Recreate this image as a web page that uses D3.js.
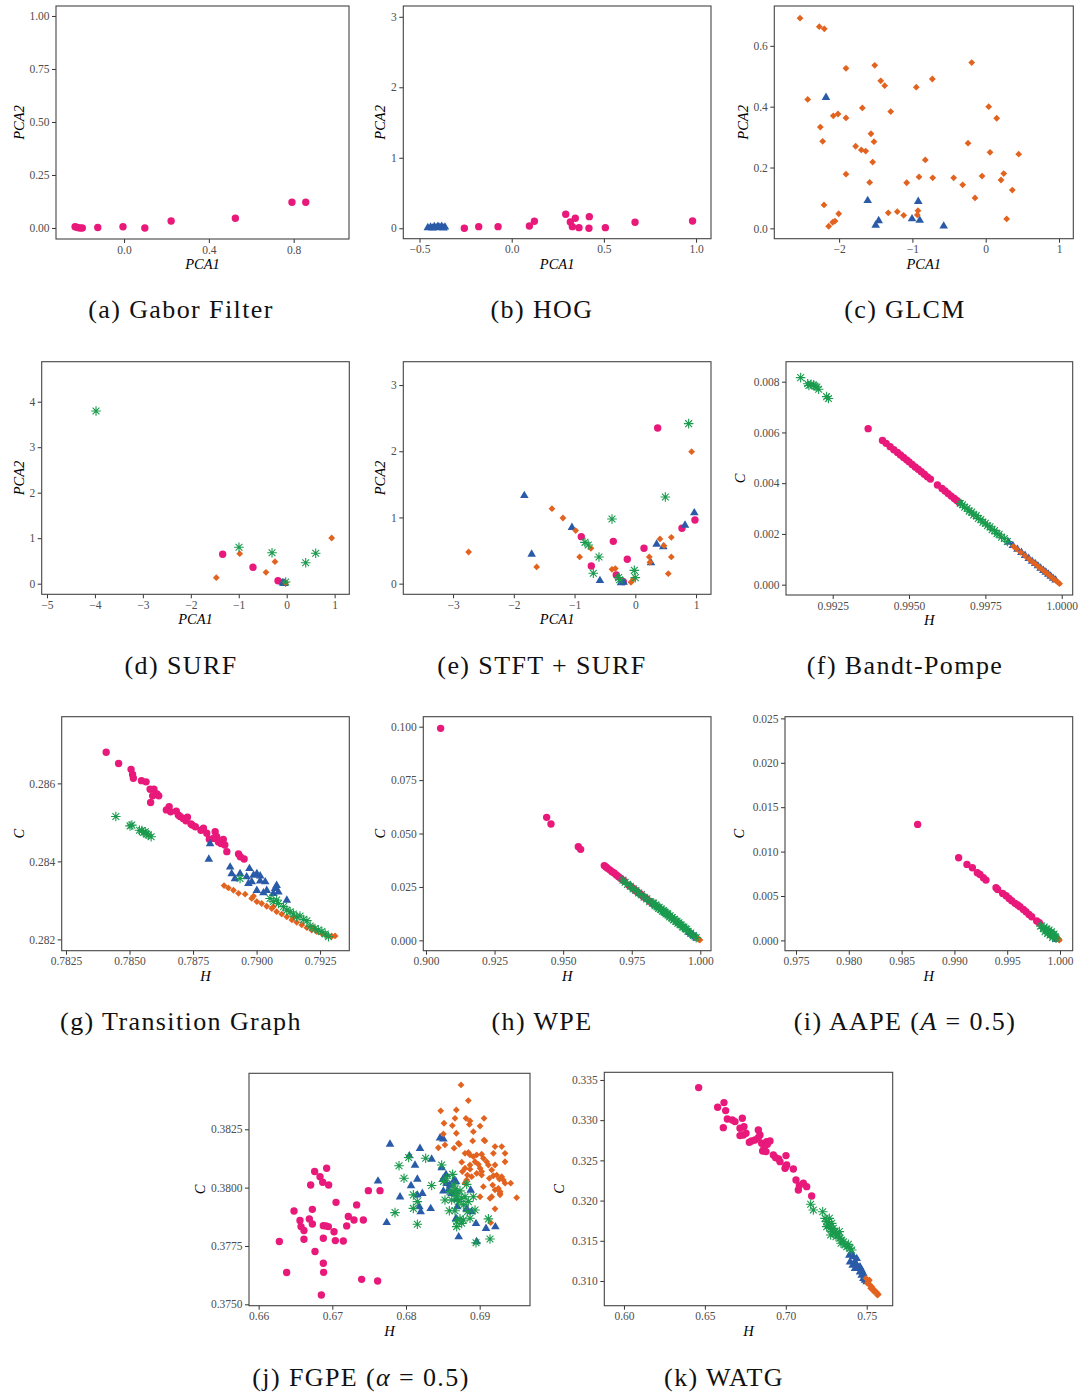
<!DOCTYPE html>
<html>
<head>
<meta charset="utf-8">
<script src="https://cdn.jsdelivr.net/npm/d3@7"></script>
<style>
html, body { margin: 0; padding: 0; background: #fff; }
svg { display: block; }
.tick text { font-family: "Liberation Serif", "Times New Roman", serif; font-size: 11.5px; fill: #4d4d4d; }
</style>
</head>
<body>
<svg id="fig" width="1083" height="1395"></svg>
<script>
// ---- class colours ----
const PINK = "#E8197A", BLUE = "#2A5BA8", ORANGE = "#E2631F", GREEN = "#1A9B4E";

// ---- (a) Gabor Filter ----
const gaborPink = [[-0.231,0.006],[-0.220,0.002],[-0.208,0.000],[-0.197,0.000],[-0.124,0.002],[-0.005,0.006],[0.098,0.000],[0.222,0.033],[0.525,0.046],[0.792,0.121],[0.857,0.121]];
const gaborXTicks = [0, 0.4, 0.8];
const gaborYTicks = [0, 0.25, 0.5, 0.75, 1];

// ---- (b) HOG ----
const hogBlue = [[-0.455,0.010],[-0.440,0.020],[-0.430,0.005],[-0.420,0.025],[-0.410,0.010],[-0.400,0.030],[-0.390,0.015],[-0.380,0.030],[-0.370,0.005],[-0.362,0.020]];
const hogPink = [[-0.257,0.000],[-0.179,0.023],[-0.074,0.023],[0.096,0.033],[0.123,0.100],[0.293,0.198],[0.318,0.089],[0.345,0.142],[0.329,0.023],[0.365,0.009],[0.421,0.165],[0.419,0.000],[0.508,0.009],[0.669,0.085],[0.981,0.104]];
const hogXTicks = [-0.5, 0, 0.5, 1];
const hogYTicks = [0, 1, 2, 3];

// ---- (c) GLCM ----
const glcmBlue = [[-2.179,0.431],[-1.610,0.092],[-0.920,0.089],[-1.460,0.026],[-1.501,0.011],[-1.005,0.032],[-0.900,0.027],[-0.573,0.008]];
const glcmOrange = [[-2.533,0.691],[-2.270,0.663],[-2.202,0.656],[-2.428,0.424],[-1.906,0.526],[-1.514,0.536],[-1.432,0.485],[-1.378,0.469],[-0.947,0.464],[-0.728,0.491],[-0.191,0.545],[0.041,0.400],[0.150,0.362],[-2.079,0.370],[-2.015,0.376],[-1.906,0.363],[-2.256,0.333],[-2.224,0.286],[-1.683,0.396],[-1.296,0.384],[-1.565,0.311],[-1.524,0.285],[-1.774,0.270],[-1.697,0.258],[-1.637,0.254],[-1.542,0.218],[-0.824,0.225],[-0.241,0.280],[0.059,0.250],[0.450,0.244],[-1.906,0.178],[-1.583,0.151],[-1.078,0.150],[-0.910,0.169],[-0.723,0.166],[-0.437,0.166],[-0.314,0.143],[-0.050,0.172],[0.246,0.180],[0.209,0.159],[0.363,0.126],[-0.146,0.100],[-2.206,0.077],[-2.005,0.048],[-2.056,0.024],[-2.087,0.020],[-2.142,0.007],[-1.329,0.051],[-1.206,0.055],[-1.119,0.043],[-0.924,0.058],[-0.933,0.044],[0.286,0.031]];
const glcmXTicks = [-2, -1, 0, 1];
const glcmYTicks = [0, 0.2, 0.4, 0.6];

// ---- (d) SURF ----
const surfPink = [[-1.335,0.646],[-0.703,0.360],[-0.181,0.066],[-0.070,0.030]];
const surfBlue = [[-0.080,0.020],[-0.050,0.010]];
const surfOrange = [[0.938,1.004],[-0.980,0.660],[-0.244,0.484],[-0.432,0.250],[-1.468,0.132],[-0.020,0.020]];
const surfGreen = [[-3.977,3.796],[-0.995,0.800],[-0.306,0.681],[0.396,0.462],[0.605,0.668],[-0.021,0.037]];
const surfXTicks = [-5, -4, -3, -2, -1, 0, 1];
const surfYTicks = [0, 1, 2, 3, 4];

// ---- (e) STFT + SURF ----
const stftPink = [[0.368,2.351],[-0.889,0.710],[-0.362,0.639],[-0.132,0.368],[0.143,0.534],[-0.724,0.267],[-0.313,0.131],[-0.198,0.030],[0.768,0.836],[0.982,0.962]];
const stftBlue = [[-1.827,1.334],[-1.706,0.448],[-1.043,0.851],[-0.582,0.050],[-0.236,0.015],[-0.192,0.025],[0.258,0.317],[0.351,0.599],[0.461,0.559],[0.818,0.886],[0.971,1.073]];
const stftOrange = [[-2.744,0.478],[-1.624,0.252],[-1.372,1.133],[-1.191,0.992],[-0.982,0.801],[-0.916,0.403],[-0.730,0.534],[-0.384,0.217],[-0.329,0.227],[-0.071,0.020],[-0.033,0.065],[0.230,0.403],[0.241,0.322],[0.406,0.675],[0.472,0.574],[0.593,0.700],[0.593,0.403],[0.543,0.151],[0.927,1.994]];
const stftGreen = [[0.878,2.417],[0.494,1.309],[-0.384,0.977],[-0.829,0.624],[-0.774,0.584],[-0.598,0.403],[-0.691,0.156],[-0.274,0.091],[-0.258,0.060],[-0.016,0.201],[0.000,0.091]];
const stftXTicks = [-3, -2, -1, 0, 1];
const stftYTicks = [0, 1, 2, 3];

// ---- (f) Bandt-Pompe ----
const bpPink = [[0.99366,0.00615],[0.99413,0.00568],[0.99425,0.00557],[0.99438,0.00544],[0.99450,0.00532],[0.99462,0.00521],[0.99472,0.00511],[0.99482,0.00501],[0.99492,0.00492],[0.99500,0.00484],[0.99510,0.00474],[0.99520,0.00464],[0.99530,0.00455],[0.99540,0.00445],[0.99550,0.00435],[0.99560,0.00425],[0.99570,0.00416],[0.99593,0.00393],[0.99608,0.00379],[0.99618,0.00369],[0.99628,0.00359],[0.99638,0.00349],[0.99648,0.00340],[0.99656,0.00332],[0.99664,0.00324]];
const bpBlue = [[0.99826,0.00168],[0.99840,0.00155],[0.99855,0.00140],[0.99868,0.00128],[0.99880,0.00116],[0.99892,0.00104],[0.99903,0.00093],[0.99913,0.00084],[0.99922,0.00075],[0.99931,0.00066],[0.99940,0.00057],[0.99948,0.00050],[0.99956,0.00042],[0.99964,0.00034],[0.99972,0.00026],[0.99980,0.00019]];
const bpOrange = [[0.99842,0.00151],[0.99852,0.00141],[0.99866,0.00127],[0.99880,0.00114],[0.99893,0.00101],[0.99905,0.00089],[0.99915,0.00080],[0.99925,0.00070],[0.99935,0.00060],[0.99945,0.00051],[0.99955,0.00041],[0.99963,0.00033],[0.99972,0.00024],[0.99980,0.00017],[0.99988,0.00009],[0.99993,0.00004]];
const bpGreen = [[0.99145,0.00816],[0.99168,0.00792],[0.99172,0.00785],[0.99179,0.00790],[0.99187,0.00787],[0.99192,0.00782],[0.99198,0.00779],[0.99204,0.00770],[0.99230,0.00741],[0.99236,0.00734],[0.99668,0.00320],[0.99675,0.00315],[0.99682,0.00305],[0.99690,0.00301],[0.99697,0.00290],[0.99705,0.00286],[0.99712,0.00275],[0.99720,0.00272],[0.99727,0.00261],[0.99735,0.00257],[0.99742,0.00246],[0.99750,0.00242],[0.99757,0.00232],[0.99765,0.00228],[0.99772,0.00217],[0.99780,0.00213],[0.99788,0.00201],[0.99795,0.00199],[0.99803,0.00187],[0.99812,0.00182],[0.99822,0.00170]];
const bpXTicks = [0.9925, 0.995, 0.9975, 1.0];
const bpYTicks = [0, 0.002, 0.004, 0.006, 0.008];

// ---- (g) Transition Graph ----
const tgPink = [[0.78408,0.28680],[0.78457,0.28651],[0.78506,0.28636],[0.78512,0.28623],[0.78515,0.28613],[0.78547,0.28607],[0.78565,0.28604],[0.78581,0.28585],[0.78596,0.28585],[0.78591,0.28568],[0.78608,0.28573],[0.78615,0.28568],[0.78583,0.28551],[0.78645,0.28532],[0.78656,0.28540],[0.78662,0.28527],[0.78684,0.28529],[0.78692,0.28519],[0.78699,0.28515],[0.78711,0.28510],[0.78722,0.28504],[0.78728,0.28513],[0.78742,0.28496],[0.78747,0.28493],[0.78759,0.28489],[0.78781,0.28480],[0.78791,0.28485],[0.78804,0.28472],[0.78814,0.28457],[0.78830,0.28459],[0.78837,0.28476],[0.78843,0.28463],[0.78850,0.28450],[0.78860,0.28446],[0.78869,0.28456],[0.78875,0.28442],[0.78883,0.28425],[0.78929,0.28419],[0.78936,0.28412],[0.78951,0.28406]];
const tgBlue = [[0.78817,0.28446],[0.78812,0.28406],[0.78896,0.28386],[0.78902,0.28369],[0.78915,0.28356],[0.78935,0.28369],[0.78961,0.28361],[0.78968,0.28344],[0.78972,0.28382],[0.78981,0.28348],[0.78988,0.28365],[0.79001,0.28369],[0.79001,0.28326],[0.79014,0.28363],[0.79014,0.28350],[0.79027,0.28320],[0.79034,0.28348],[0.79040,0.28326],[0.79066,0.28318],[0.79073,0.28331],[0.79079,0.28339],[0.79086,0.28322],[0.79119,0.28301]];
const tgOrange = [[0.78872,0.28338],[0.78889,0.28332],[0.78909,0.28326],[0.78929,0.28318],[0.78955,0.28316],[0.78981,0.28305],[0.79001,0.28297],[0.79020,0.28292],[0.79040,0.28285],[0.79060,0.28279],[0.79079,0.28271],[0.79099,0.28265],[0.79119,0.28258],[0.79139,0.28250],[0.79158,0.28244],[0.79178,0.28237],[0.79198,0.28230],[0.79217,0.28224],[0.79237,0.28220],[0.79257,0.28215],[0.79276,0.28211],[0.79296,0.28208],[0.79309,0.28209],[0.78988,0.28311],[0.79066,0.28284],[0.79145,0.28256],[0.79224,0.28231]];
const tgGreen = [[0.78446,0.28515],[0.78502,0.28491],[0.78509,0.28493],[0.78539,0.28480],[0.78548,0.28479],[0.78554,0.28474],[0.78562,0.28476],[0.78568,0.28470],[0.78574,0.28468],[0.78585,0.28463],[0.78935,0.28356],[0.79053,0.28305],[0.79066,0.28297],[0.79079,0.28301],[0.79086,0.28292],[0.79106,0.28284],[0.79119,0.28275],[0.79132,0.28271],[0.79145,0.28265],[0.79158,0.28258],[0.79171,0.28260],[0.79184,0.28251],[0.79198,0.28248],[0.79211,0.28234],[0.79230,0.28228],[0.79243,0.28224],[0.79257,0.28220],[0.79270,0.28214],[0.79283,0.28207]];
const tgXTicks = [0.7825, 0.785, 0.7875, 0.79, 0.7925];
const tgYTicks = [0.282, 0.284, 0.286];

// ---- (h) WPE ----
const wpePink = [[0.90535,0.09922],[0.94399,0.05757],[0.94557,0.05445],[0.95553,0.04384],[0.95638,0.04259],[0.9650,0.0350],[0.9656,0.0343],[0.9662,0.0337],[0.9670,0.0330],[0.9678,0.0321],[0.9686,0.0315],[0.9694,0.0306],[0.9702,0.0298],[0.9710,0.0290],[0.9720,0.0280],[0.9740,0.0258],[0.9750,0.0248],[0.9760,0.0238],[0.9770,0.0228],[0.9780,0.0218],[0.9790,0.0208],[0.9800,0.0198],[0.9815,0.0183],[0.9830,0.0168]];
const wpeBlue = [[0.9960,0.0038],[0.9968,0.0030],[0.9975,0.0024],[0.9982,0.0017],[0.9988,0.0011]];
const wpeOrange = [[0.9985,0.0012],[0.9990,0.0008],[0.9994,0.0005],[0.9997,0.0003],[0.99985,0.0002]];
const wpeGreen = [[0.9718,0.0282],[0.9726,0.0272],[0.9735,0.0262],[0.9745,0.0253],[0.9755,0.0241],[0.9765,0.0233],[0.9775,0.0222],[0.9785,0.0214],[0.9795,0.0202],[0.9805,0.0194],[0.9815,0.0181],[0.9825,0.0175],[0.9835,0.0162],[0.9842,0.0157],[0.9848,0.0149],[0.9855,0.0145],[0.9862,0.0136],[0.9868,0.0133],[0.9875,0.0124],[0.9882,0.0119],[0.9888,0.0110],[0.9895,0.0105],[0.9902,0.0096],[0.9910,0.0090],[0.9918,0.0080],[0.9926,0.0074],[0.9935,0.0063],[0.9945,0.0054],[0.9955,0.0043],[0.9965,0.0034],[0.9975,0.0023],[0.9985,0.0013],[0.9830,0.0175],[0.9838,0.0166],[0.9850,0.0155],[0.9858,0.0147],[0.9866,0.0139],[0.9872,0.0131],[0.9880,0.0126],[0.9890,0.0115],[0.9898,0.0107],[0.9906,0.0099],[0.9915,0.0089],[0.9922,0.0082],[0.9930,0.0072],[0.9940,0.0062],[0.9950,0.0052]];
const wpeXTicks = [0.9, 0.925, 0.95, 0.975, 1.0];
const wpeYTicks = [0, 0.025, 0.05, 0.075, 0.1];

// ---- (i) AAPE ----
const aapePink = [[0.98652,0.01306],[0.99040,0.00931],[0.99119,0.00856],[0.99170,0.00818],[0.99217,0.00762],[0.99242,0.00743],[0.99274,0.00706],[0.99299,0.00679],[0.99394,0.00593],[0.99410,0.00574],[0.99457,0.00529],[0.99489,0.00503],[0.99517,0.00473],[0.99542,0.00447],[0.99574,0.00417],[0.99599,0.00398],[0.99621,0.00379],[0.99653,0.00349],[0.99678,0.00323],[0.99706,0.00293],[0.99732,0.00267],[0.99779,0.00218],[0.99804,0.00199]];
const aapeBlue = [[0.99975,0.00011],[0.99965,0.00020]];
const aapeOrange = [[0.99994,0.00004],[0.99984,0.00019],[0.99990,0.00010]];
const aapeGreen = [[0.99817,0.00161],[0.99842,0.00135],[0.99867,0.00116],[0.99890,0.00105],[0.99905,0.00086],[0.99921,0.00071],[0.99937,0.00056],[0.99953,0.00041],[0.99962,0.00026],[0.99858,0.00098],[0.99883,0.00079],[0.99905,0.00060],[0.99930,0.00034],[0.99896,0.00116],[0.99918,0.00098],[0.99943,0.00071],[0.99875,0.00128],[0.99850,0.00150]];
const aapeXTicks = [0.975, 0.98, 0.985, 0.99, 0.995, 1.0];
const aapeYTicks = [0, 0.005, 0.01, 0.015, 0.02, 0.025];

// ---- (j) FGPE ----
const fgpePink = [[0.66281,0.37769],[0.66380,0.37636],[0.66480,0.37900],[0.66561,0.37859],[0.66575,0.37833],[0.66615,0.37816],[0.66615,0.37779],[0.66706,0.38011],[0.66688,0.37866],[0.66729,0.37907],[0.66729,0.37844],[0.66760,0.38069],[0.66765,0.37726],[0.66833,0.38047],[0.66869,0.38023],[0.66878,0.37837],[0.66878,0.37783],[0.66914,0.37836],[0.66878,0.37676],[0.66882,0.37637],[0.66851,0.37540],[0.66923,0.38083],[0.66950,0.38011],[0.66946,0.37833],[0.67023,0.37811],[0.67041,0.37773],[0.67050,0.37937],[0.67149,0.37771],[0.67195,0.37836],[0.67217,0.37876],[0.67294,0.37861],[0.67330,0.37926],[0.67421,0.37861],[0.67398,0.37607],[0.67489,0.37987],[0.67615,0.37600],[0.67647,0.37987]];
const fgpeBlue = [[0.67783,0.38187],[0.67620,0.38029],[0.67738,0.37851],[0.67919,0.37961],[0.68045,0.38137],[0.68122,0.38097],[0.68154,0.38037],[0.68190,0.38169],[0.68068,0.38009],[0.68154,0.37969],[0.68181,0.37919],[0.68199,0.37897],[0.68222,0.37976],[0.68335,0.37911],[0.68348,0.38123],[0.68462,0.38214],[0.68507,0.38209],[0.68484,0.38086],[0.68507,0.38040],[0.68543,0.38057],[0.68552,0.38019],[0.68507,0.37986],[0.68575,0.37990],[0.68597,0.38011],[0.68620,0.37976],[0.68652,0.38033],[0.68679,0.38026],[0.68679,0.37983],[0.68688,0.37954],[0.68697,0.37919],[0.68679,0.37869],[0.68715,0.37790],[0.68824,0.37911],[0.68878,0.37990],[0.68891,0.37897],[0.68950,0.37847],[0.68959,0.37769],[0.69086,0.37826],[0.69213,0.37833]];
const fgpeOrange = [[0.68747,0.38440],[0.68846,0.38373],[0.68471,0.38329],[0.68683,0.38333],[0.68814,0.38297],[0.68665,0.38297],[0.68869,0.38286],[0.68516,0.38276],[0.68860,0.38271],[0.69005,0.38264],[0.69059,0.38297],[0.68629,0.38266],[0.68507,0.38230],[0.68683,0.38233],[0.68914,0.38240],[0.68439,0.38171],[0.68529,0.38183],[0.68652,0.38169],[0.68710,0.38190],[0.68801,0.38147],[0.68846,0.38151],[0.68869,0.38140],[0.68914,0.38133],[0.68959,0.38140],[0.69027,0.38143],[0.69059,0.38204],[0.68905,0.38200],[0.68724,0.38186],[0.68756,0.38109],[0.68801,0.38083],[0.68833,0.38054],[0.68869,0.38097],[0.68937,0.38111],[0.68982,0.38100],[0.69005,0.38083],[0.69050,0.38126],[0.69095,0.38111],[0.69118,0.38097],[0.69163,0.38076],[0.69208,0.38097],[0.69231,0.38054],[0.69267,0.38037],[0.69299,0.38047],[0.69321,0.38033],[0.69344,0.38019],[0.69299,0.38176],[0.69344,0.38147],[0.69344,0.38111],[0.69186,0.38147],[0.69208,0.38176],[0.69176,0.38011],[0.69208,0.37990],[0.69253,0.37997],[0.69276,0.37969],[0.69421,0.38019],[0.69502,0.37957],[0.69027,0.38054],[0.69050,0.38004],[0.69140,0.37954],[0.69163,0.37961],[0.69208,0.37909],[0.69005,0.37961],[0.68869,0.38079],[0.68891,0.38047],[0.68959,0.38061],[0.69027,0.38069],[0.69131,0.38040],[0.69186,0.38051],[0.69276,0.37983],[0.69276,0.37976],[0.69149,0.37850],[0.68801,0.38019],[0.68824,0.38033],[0.68765,0.38069],[0.69072,0.38200]];
const fgpeGreen = [[0.67851,0.37893],[0.67905,0.38094],[0.67973,0.38040],[0.68036,0.38129],[0.68100,0.37969],[0.68154,0.37940],[0.68100,0.37911],[0.68154,0.37843],[0.68267,0.38126],[0.68348,0.38009],[0.68484,0.38097],[0.68507,0.38026],[0.68552,0.38040],[0.68529,0.37947],[0.68597,0.37983],[0.68633,0.38057],[0.68652,0.38011],[0.68665,0.37994],[0.68679,0.37976],[0.68688,0.37961],[0.68710,0.37940],[0.68733,0.37986],[0.68756,0.37954],[0.68801,0.37961],[0.68824,0.38014],[0.68588,0.37901],[0.68665,0.37901],[0.68688,0.37854],[0.68688,0.37833],[0.68733,0.37866],[0.68756,0.37847],[0.68778,0.37861],[0.68833,0.37897],[0.68869,0.37869],[0.68937,0.37904],[0.68950,0.37764],[0.69118,0.37866],[0.69140,0.37780],[0.68620,0.37947],[0.68778,0.37926],[0.68846,0.37940],[0.68914,0.37961]];
const fgpeXTicks = [0.66, 0.67, 0.68, 0.69];
const fgpeYTicks = [0.375, 0.3775, 0.38, 0.3825];

// ---- (k) WATG ----
const watgPink = [[0.64615,0.33405],[0.65789,0.33160],[0.66180,0.33218],[0.66283,0.33119],[0.66139,0.32907],[0.66386,0.33015],[0.66695,0.33002],[0.66860,0.32982],[0.67313,0.33023],[0.67169,0.32899],[0.67417,0.32920],[0.67169,0.32808],[0.67375,0.32816],[0.67540,0.32837],[0.67746,0.32725],[0.67890,0.32741],[0.68096,0.32754],[0.68302,0.32878],[0.68405,0.32816],[0.68302,0.32783],[0.68508,0.32712],[0.68570,0.32617],[0.68653,0.32650],[0.68817,0.32733],[0.69023,0.32741],[0.68776,0.32609],[0.68859,0.32700],[0.69230,0.32567],[0.69374,0.32534],[0.69559,0.32517],[0.69641,0.32484],[0.70012,0.32559],[0.70054,0.32443],[0.69951,0.32401],[0.69992,0.32422],[0.70466,0.32393],[0.70630,0.32256],[0.70775,0.32132],[0.70836,0.32186],[0.71084,0.32215],[0.71290,0.32173],[0.71599,0.32057]];
const watgBlue = [[0.73927,0.31323],[0.74071,0.31344],[0.74174,0.31303],[0.73968,0.31240],[0.74133,0.31199],[0.74277,0.31240],[0.74380,0.31199],[0.74483,0.31158],[0.74277,0.31158],[0.74586,0.31116],[0.74689,0.31075],[0.74792,0.31033],[0.74895,0.31012],[0.74586,0.31178],[0.74380,0.31282],[0.74689,0.31137],[0.74792,0.31095],[0.74998,0.30992]];
const watgOrange = [[0.74957,0.31033],[0.75101,0.30992],[0.75204,0.30950],[0.75307,0.30930],[0.75410,0.30900],[0.75513,0.30876],[0.75616,0.30859],[0.75719,0.30834],[0.75039,0.30971],[0.75245,0.30909],[0.75451,0.30867],[0.75657,0.30826],[0.75163,0.31012]];
const watgGreen = [[0.71537,0.31954],[0.71702,0.31883],[0.72279,0.31862],[0.72423,0.31779],[0.72526,0.31738],[0.72629,0.31697],[0.72691,0.31779],[0.72732,0.31655],[0.72835,0.31717],[0.72897,0.31614],[0.72938,0.31655],[0.73041,0.31614],[0.73103,0.31551],[0.73144,0.31593],[0.73247,0.31572],[0.73309,0.31614],[0.73350,0.31531],[0.73412,0.31469],[0.73453,0.31510],[0.73556,0.31489],[0.73659,0.31448],[0.73762,0.31427],[0.73865,0.31456],[0.73968,0.31406],[0.74071,0.31386],[0.72526,0.31676],[0.72773,0.31572]];
const watgXTicks = [0.6, 0.65, 0.7, 0.75];
const watgYTicks = [0.31, 0.315, 0.32, 0.325, 0.33, 0.335];

// ---- panel layout ----
const panels = [
  { box:[56,6,349,239], xd:[-0.321,1.061], yd:[-0.052,1.047], xt:gaborXTicks, yt:gaborYTicks, xf:".1f", yf:".2f",
    xl:"PCA1", yl:"PCA2", ylx:24, cap:[["(a) Gabor Filter"]], capX:181, capY:318,
    series:[[gaborPink,"circle",PINK]] },
  { box:[403.3,6,711,238.7], xd:[-0.588,1.081], yd:[-0.148,3.153], xt:hogXTicks, yt:hogYTicks, xf:".1f", yf:"d",
    xl:"PCA1", yl:"PCA2", ylx:385, cap:[["(b) HOG"]], capX:542, capY:318,
    series:[[hogPink,"circle",PINK],[hogBlue,"triangle",BLUE]] },
  { box:[774.3,6,1073.3,238.7], xd:[-2.884,1.195], yd:[-0.034,0.731], xt:glcmXTicks, yt:glcmYTicks, xf:"d", yf:".1f",
    xl:"PCA1", yl:"PCA2", ylx:748, cap:[["(c) GLCM"]], capX:905, capY:318,
    series:[[glcmBlue,"triangle",BLUE],[glcmOrange,"diamond",ORANGE]] },
  { box:[41.7,361.7,349.3,594.3], xd:[-5.11,1.306], yd:[-0.233,4.879], xt:surfXTicks, yt:surfYTicks, xf:"d", yf:"d",
    xl:"PCA1", yl:"PCA2", ylx:24, cap:[["(d) SURF"]], capX:181, capY:674,
    series:[[surfPink,"circle",PINK],[surfBlue,"triangle",BLUE],[surfOrange,"diamond",ORANGE],[surfGreen,"asterisk",GREEN]] },
  { box:[403.3,361.7,711,594.3], xd:[-3.819,1.246], yd:[-0.161,3.353], xt:stftXTicks, yt:stftYTicks, xf:"d", yf:"d",
    xl:"PCA1", yl:"PCA2", ylx:385, cap:[["(e) STFT + SURF"]], capX:542, capY:674,
    series:[[stftPink,"circle",PINK],[stftBlue,"triangle",BLUE],[stftOrange,"diamond",ORANGE],[stftGreen,"asterisk",GREEN]] },
  { box:[786,361.7,1072.7,595], xd:[0.99097,1.00036], yd:[-0.000407,0.008788], xt:bpXTicks, yt:bpYTicks, xf:".4f", yf:".3f",
    xl:"H", yl:"C", ylx:745, cap:[["(f) Bandt-Pompe"]], capX:905, capY:674,
    series:[[bpPink,"circle",PINK],[bpBlue,"triangle",BLUE],[bpOrange,"diamond",ORANGE],[bpGreen,"asterisk",GREEN]] },
  { box:[61.7,716.7,349.3,950.7], xd:[0.78233,0.79365], yd:[0.28171,0.28771], xt:tgXTicks, yt:tgYTicks, xf:".4f", yf:".3f",
    xl:"H", yl:"C", ylx:24, cap:[["(g) Transition Graph"]], capX:181, capY:1030,
    series:[[tgPink,"circle",PINK],[tgBlue,"triangle",BLUE],[tgOrange,"diamond",ORANGE],[tgGreen,"asterisk",GREEN]] },
  { box:[423.3,716.7,711,950.7], xd:[0.89903,1.00389], yd:[-0.00484,0.10468], xt:wpeXTicks, yt:wpeYTicks, xf:".3f", yf:".3f",
    xl:"H", yl:"C", ylx:385, cap:[["(h) WPE"]], capX:542, capY:1030,
    series:[[wpePink,"circle",PINK],[wpeBlue,"triangle",BLUE],[wpeOrange,"diamond",ORANGE],[wpeGreen,"asterisk",GREEN]] },
  { box:[785,716.7,1072.7,950.7], xd:[0.97396,1.0012], yd:[-0.00116,0.02519], xt:aapeXTicks, yt:aapeYTicks, xf:".3f", yf:".3f",
    xl:"H", yl:"C", ylx:744, cap:[["(i) AAPE ("],["A","italic"],[" = 0.5)"]], capX:905, capY:1030,
    series:[[aapePink,"circle",PINK],[aapeBlue,"triangle",BLUE],[aapeOrange,"diamond",ORANGE],[aapeGreen,"asterisk",GREEN]] },
  { box:[249,1073.3,530,1305.7], xd:[0.65869,0.69683], yd:[0.37494,0.3849], xt:fgpeXTicks, yt:fgpeYTicks, xf:".2f", yf:".4f",
    xl:"H", yl:"C", ylx:205, cap:[["(j) FGPE ("],["α","italic"],[" = 0.5)"]], capX:361, capY:1386,
    series:[[fgpePink,"circle",PINK],[fgpeBlue,"triangle",BLUE],[fgpeOrange,"diamond",ORANGE],[fgpeGreen,"asterisk",GREEN]] },
  { box:[604.3,1072.3,892.7,1305.7], xd:[0.58785,0.76605], yd:[0.30693,0.33595], xt:watgXTicks, yt:watgYTicks, xf:".2f", yf:".3f",
    xl:"H", yl:"C", ylx:564, cap:[["(k) WATG"]], capX:724, capY:1386,
    series:[[watgPink,"circle",PINK],[watgBlue,"triangle",BLUE],[watgOrange,"diamond",ORANGE],[watgGreen,"asterisk",GREEN]] }
];

const SERIF = '"Liberation Serif", "Times New Roman", serif';
const markPath = {
  circle: d3.symbol(d3.symbolCircle, Math.PI * 3.7 * 3.7)(),
  triangle: "M0,-4.7L4.3,2.7L-4.3,2.7Z",
  diamond: "M0,-3.4L3.4,0L0,3.4L-3.4,0Z",
  asterisk: "M-4.8,0H4.8M0,-4.8V4.8M-3.4,-3.4L3.4,3.4M-3.4,3.4L3.4,-3.4"
};

const svg = d3.select("#fig");

panels.forEach(p => {
  const [x0, y0, x1, y1] = p.box;
  const x = d3.scaleLinear().domain(p.xd).range([x0, x1]);
  const y = d3.scaleLinear().domain(p.yd).range([y1, y0]);
  const g = svg.append("g");

  // point layers
  p.series.forEach(([data, kind, color]) => {
    const isStroke = kind === "asterisk";
    g.append("g").selectAll("path").data(data).join("path")
      .attr("d", markPath[kind])
      .attr("transform", d => `translate(${x(d[0])},${y(d[1])})`)
      .attr("fill", isStroke ? "none" : color)
      .attr("stroke", isStroke ? color : "none")
      .attr("stroke-width", isStroke ? 1.1 : 0);
  });

  // axes
  const ax = g.append("g").attr("transform", `translate(0,${y1})`)
    .call(d3.axisBottom(x).tickValues(p.xt).tickFormat(d3.format(p.xf)).tickSizeInner(4).tickSizeOuter(0).tickPadding(2.5));
  const ay = g.append("g").attr("transform", `translate(${x0},0)`)
    .call(d3.axisLeft(y).tickValues(p.yt).tickFormat(d3.format(p.yf)).tickSizeInner(4).tickSizeOuter(0).tickPadding(2.5));
  [ax, ay].forEach(a => {
    a.select(".domain").remove();
    a.selectAll(".tick line").attr("stroke", "#333").attr("stroke-width", 1);
  });

  // panel border
  g.append("rect").attr("x", x0).attr("y", y0).attr("width", x1 - x0).attr("height", y1 - y0)
    .attr("fill", "none").attr("stroke", "#444").attr("stroke-width", 1.1);

  // axis titles
  g.append("text").attr("x", (x0 + x1) / 2).attr("y", y1 + 30)
    .attr("text-anchor", "middle").attr("font-family", SERIF).attr("font-style", "italic")
    .attr("font-size", 14.5).attr("fill", "#000").text(p.xl);
  g.append("text").attr("transform", `translate(${p.ylx},${(y0 + y1) / 2}) rotate(-90)`)
    .attr("text-anchor", "middle").attr("font-family", SERIF).attr("font-style", "italic")
    .attr("font-size", 14.5).attr("fill", "#000").text(p.yl);

  // sub-figure caption
  const cap = svg.append("text").attr("x", p.capX).attr("y", p.capY)
    .attr("text-anchor", "middle").attr("font-family", SERIF).attr("font-size", 26)
    .attr("letter-spacing", 1.4).attr("fill", "#111");
  p.cap.forEach(([txt, style]) => {
    cap.append("tspan").attr("font-style", style || "normal").text(txt);
  });
});
</script>
</body>
</html>
